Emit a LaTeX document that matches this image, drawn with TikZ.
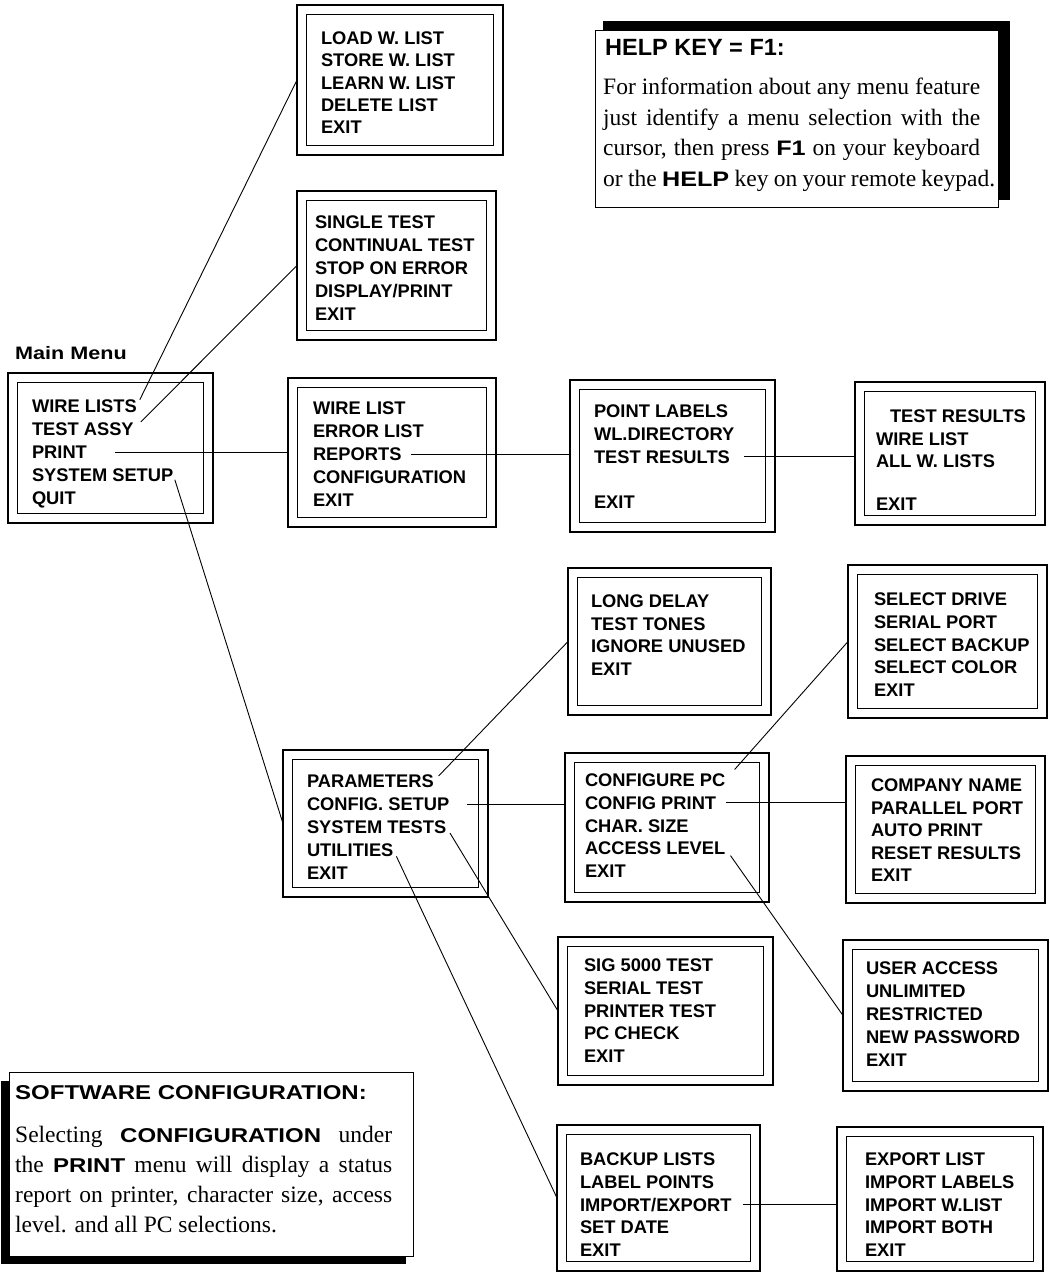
\documentclass[tikz,border=0pt]{standalone}
\usepackage{fontspec}
\setmainfont{Liberation Serif}
\newfontfamily\menusans{Liberation Sans}
\newfontfamily\widesans[FakeStretch=1.2]{Liberation Sans}
\usetikzlibrary{fit,backgrounds}
\newcommand\menuitems[5]{\foreach \lbl [count=\k] in {#5}{\node[item] (#1\k) at (#2,{#3+#4*(\k-1)}) {\lbl};}}
\newcommand\inl[2][20]{{\widesans\bfseries\fontsize{#1}{#1}\selectfont #2}}
% outer rectangle as a named node, inner rectangle inset
\newcommand\dblbox[5]{%
  \node[menubox, fit={(#2,#3) (#4,#5)}] (#1) {};
  \draw[boxline] ([shift={(9.5,9.5)}]#1.north west) rectangle ([shift={(-9.5,-9.5)}]#1.south east);}
\begin{document}
\begin{tikzpicture}[x=1pt,y=-1pt,
  item/.style={anchor=west, inner sep=0pt, outer sep=0pt, text height=13.1pt, text depth=0pt,
    font=\menusans\bfseries\fontsize{18.3}{22}\selectfont},
  boxline/.style={line width=1.6pt},
  menubox/.style={draw, line width=1.6pt, inner sep=0pt, outer sep=0pt},
  conn/.style={line width=0.9pt, shorten <=7pt},
  bodyline/.style={anchor=base west, inner sep=0pt, font=\fontsize{23.5}{28}\selectfont},
  shadowbox/.style={draw, line width=0.8pt, fill=white},
  shadow/.style={fill=black}]
\useasboundingbox (0,0) rectangle (1049,1273);

% ---- menu boxes ----
\dblbox{wl}{297}{5}{503}{155}
\dblbox{ta}{297}{191}{496}{340}
\dblbox{mm}{8}{373}{213}{523}
\dblbox{pr}{288}{378}{496}{527}
\dblbox{pl}{570}{380}{775}{532}
\dblbox{tr}{855}{382}{1045}{525}
\dblbox{ld}{568}{568}{771}{715}
\dblbox{sd}{848}{565}{1047}{718}
\dblbox{pa}{283}{750}{488}{897}
\dblbox{cp}{565}{753}{769}{902}
\dblbox{cn}{846}{756}{1045}{903}
\dblbox{st}{558}{937}{773}{1085}
\dblbox{ua}{843}{940}{1048}{1091}
\dblbox{bk}{557}{1125}{760}{1271}
\dblbox{ex}{837}{1127}{1043}{1271}

% ---- menu texts ----
\node[anchor=base west, inner sep=0pt, font=\widesans\bfseries\fontsize{18}{22}\selectfont] (mmtitle) at (15,359) {Main Menu};
\menuitems{wl}{321}{38}{22.3}{LOAD W. LIST,STORE W. LIST,LEARN W. LIST,DELETE LIST,EXIT}
\menuitems{ta}{315}{222}{23}{SINGLE TEST,CONTINUAL TEST,STOP ON ERROR,DISPLAY/PRINT,EXIT}
\menuitems{mm}{32}{406}{23}{WIRE LISTS,TEST ASSY,PRINT,SYSTEM SETUP,QUIT}
\menuitems{pr}{313}{408}{23}{WIRE LIST,ERROR LIST,REPORTS,CONFIGURATION,EXIT}
\menuitems{pl}{594}{411}{22.75}{POINT LABELS,WL.DIRECTORY,TEST RESULTS}
\node[item] (pl5) at (594,502) {EXIT};
\node[item] (tr1) at (890,416) {TEST RESULTS};
\node[item] (tr2) at (876,438.5) {WIRE LIST};
\node[item] (tr3) at (876,461) {ALL W. LISTS};
\node[item] (tr5) at (876,504) {EXIT};
\menuitems{ld}{591}{601}{22.6}{LONG DELAY,TEST TONES,IGNORE UNUSED,EXIT}
\menuitems{sd}{874}{599}{22.75}{SELECT DRIVE,SERIAL PORT,SELECT BACKUP,SELECT COLOR,EXIT}
\menuitems{pa}{307}{781}{23}{PARAMETERS,CONFIG. SETUP,SYSTEM TESTS,UTILITIES,EXIT}
\menuitems{cp}{585}{780}{22.75}{CONFIGURE PC,CONFIG PRINT,CHAR. SIZE,ACCESS LEVEL,EXIT}
\menuitems{cn}{871}{785}{22.5}{COMPANY NAME,PARALLEL PORT,AUTO PRINT,RESET RESULTS,EXIT}
\menuitems{st}{584}{965}{22.75}{SIG 5000 TEST,SERIAL TEST,PRINTER TEST,PC CHECK,EXIT}
\menuitems{ua}{866}{968}{23}{USER ACCESS,UNLIMITED,RESTRICTED,NEW PASSWORD,EXIT}
\menuitems{bk}{580}{1159}{22.75}{BACKUP LISTS,LABEL POINTS,IMPORT/EXPORT,SET DATE,EXIT}
\menuitems{ex}{865}{1159}{22.75}{EXPORT LIST,IMPORT LABELS,IMPORT W.LIST,IMPORT BOTH,EXIT}

% ---- connectors ----
\begin{pgfonlayer}{background}
\fill[white] (0,0) rectangle (1049,1273);
\end{pgfonlayer}
\draw[conn] (mm1.east) -- (wl.west);
\draw[conn, shorten <=10pt] (mm2.east) -- (ta.west);
\draw[conn, shorten <=28pt] (mm3.east) -- (mm3.east -| pr.west);
\draw[conn, shorten <=5pt] (mm4.east) -- (pa.west);
\draw[conn, shorten <=10pt] (pr3.east) -- (pr3.east -| pl.west);
\draw[conn, shorten <=14pt] (pl3.east) -- (pl3.east -| tr.west);
\draw[conn] (pa1.east) -- (ld.west);
\draw[conn, shorten <=18pt] (pa2.east) -- (pa2.east -| cp.west);
\draw[conn] (pa3.east) -- (st.west);
\draw[conn] (pa4.east) -- (bk.west);
\draw[conn, shorten <=14pt] (cp1.east) -- (sd.west);
\draw[conn, shorten <=10pt] (cp2.east) -- (cp2.east -| cn.west);
\draw[conn, shorten <=9pt] (cp4.east) -- (ua.west);
\draw[conn, shorten <=11pt] (bk3.east) -- (bk3.east -| ex.west);

% ---- help box ----
\fill[shadow] (603,21) rectangle (1010,200);
\draw[shadowbox] (595,30) rectangle (998,207);
\node[anchor=base west, inner sep=0pt, font=\menusans\bfseries\fontsize{23.5}{28}\selectfont] (helpt) at (605,56) {HELP KEY = F1:};
\node[bodyline] (h1) at (603,95) {\makebox[377pt][s]{For information about any menu feature}};
\node[bodyline] (h2) at (603,125.5) {\makebox[377pt][s]{just identify a menu selection with the}};
\node[bodyline] (h3) at (603,156) {\makebox[377pt][s]{cursor, then press \inl[21]{F1} on your keyboard}};
\node[bodyline] (h4) at (603,186.5) {\makebox[392pt][s]{or the \inl[21]{HELP} key on your remote keypad.}};

% ---- software configuration box ----
\fill[shadow] (1,1081) rectangle (406,1264);
\draw[shadowbox] (9,1072) rectangle (413,1256);
\node[anchor=base west, inner sep=0pt, font=\widesans\bfseries\fontsize{20}{24}\selectfont] (swt) at (15,1099) {SOFTWARE CONFIGURATION:};
\node[bodyline] (s1) at (15,1142) {\makebox[377pt][s]{Selecting \inl{CONFIGURATION} under}};
\node[bodyline] (s2) at (15,1172) {\makebox[377pt][s]{the \inl{PRINT} menu will display a status}};
\node[bodyline] (s3) at (15,1202) {\makebox[377pt][s]{report on printer, character size, access}};
\node[bodyline] (s4) at (15,1232) {level. and all PC selections.};
\end{tikzpicture}
\end{document}
